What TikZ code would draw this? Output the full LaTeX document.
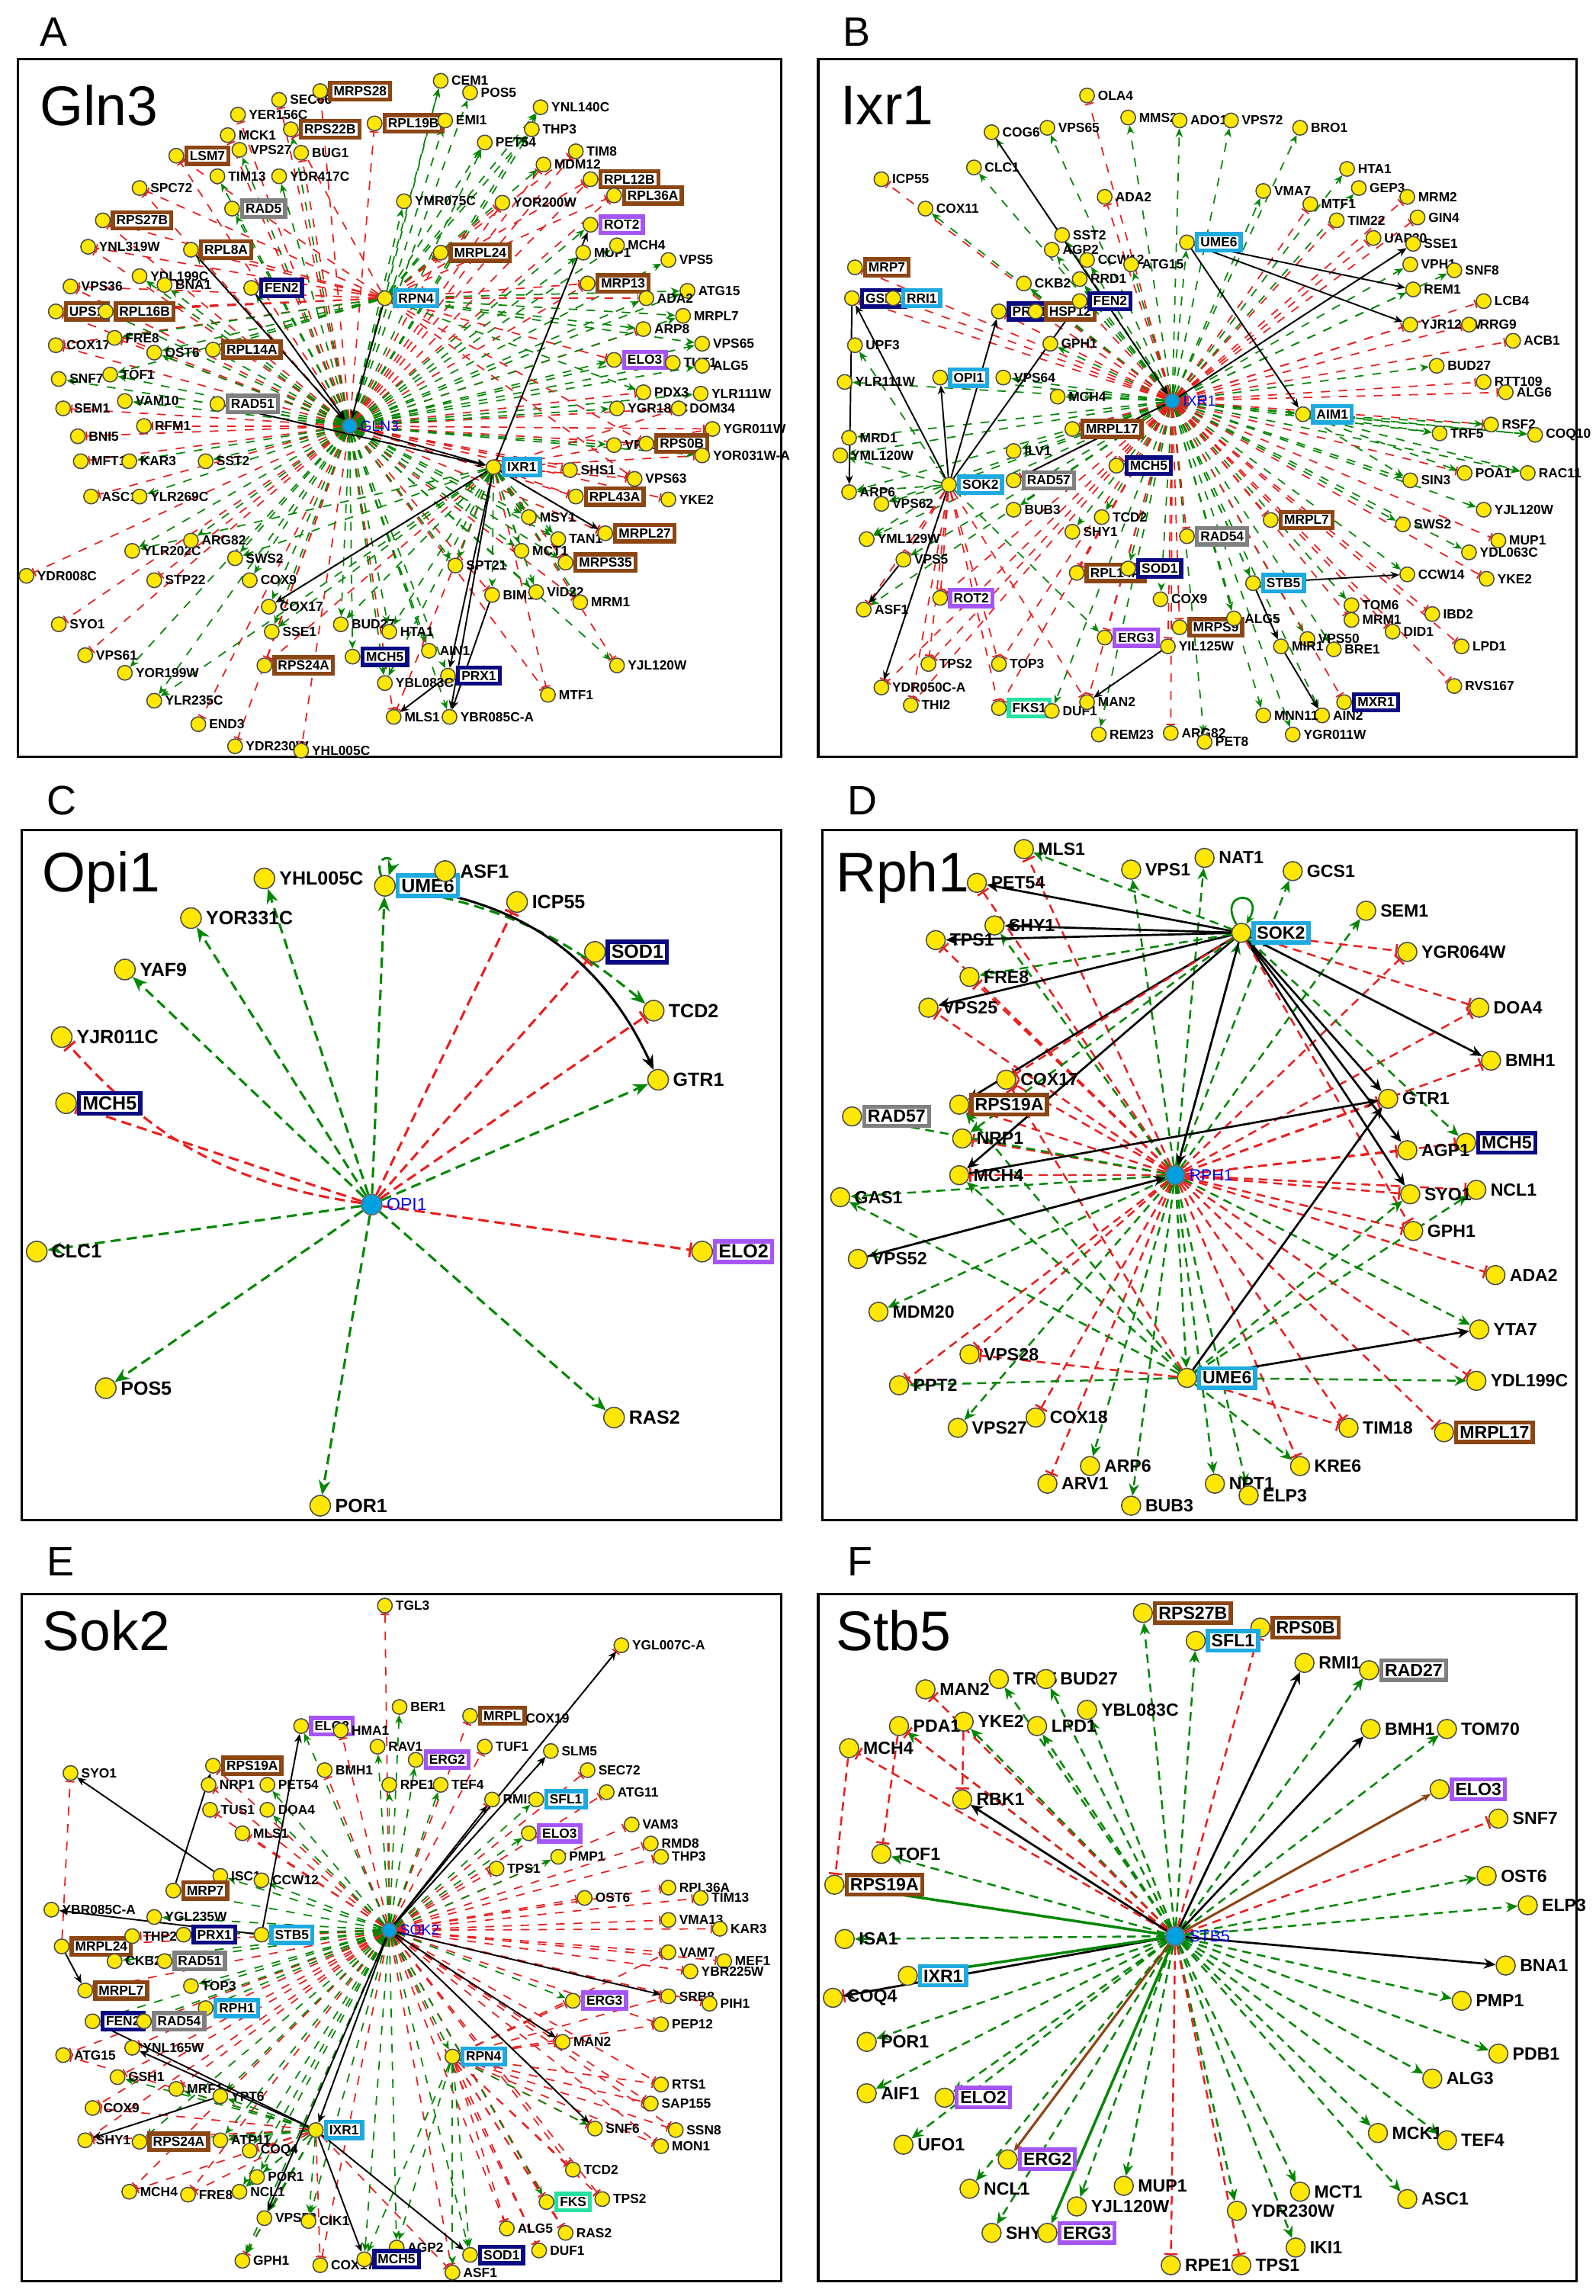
\documentclass[tikz,border=0pt]{standalone}
\usepackage{fontspec}
\setmainfont{Liberation Sans}
\usetikzlibrary{arrows.meta}
\pgfdeclarelayer{bg}\pgfsetlayers{bg,main}
\definecolor{brn}{RGB}{140,70,20}
\definecolor{cyn}{RGB}{30,170,225}
\definecolor{nvy}{RGB}{10,10,130}
\definecolor{prp}{RGB}{165,85,245}
\definecolor{gry}{RGB}{128,128,128}
\definecolor{tea}{RGB}{40,225,160}
\definecolor{gE}{RGB}{0,135,0}
\definecolor{rE}{RGB}{235,30,30}
\definecolor{hubc}{RGB}{0,160,225}
\newcommand\GN[3]{\node[dot] (#1) at (#2) {};\node[lab] at (#1.east) {#3};}
\newcommand\BX[4]{\node[dot] (#1) at (#2) {};\node[lab,draw=#4,fill=white,line width=1.4pt,inner sep=1.2pt] at (#1.east) {#3};}
\newcommand\HB[3]{\node[hub] (#1) at (#2) {};\node[lab,text=blue,font=\fontsize{5}{5}\selectfont] at (#1.east) {#3};}
\newcommand\ED[3]{\begin{pgfonlayer}{bg}\foreach \t in {#3} \draw[#1] (#2) -- (\t);\end{pgfonlayer}}
\begin{document}
\begin{tikzpicture}[x=0.5pt,y=-0.5pt,
 dot/.style={circle,fill=yellow!90!orange,draw=black!70,line width=0.4pt,minimum size=5pt,inner sep=0pt},
 hub/.style={circle,fill=hubc,draw=black!60,minimum size=5pt,inner sep=0pt},
 lab/.style={anchor=west,inner sep=0.8pt,font=\fontsize{4.5}{5}\bfseries},
 ge/.style={draw=gE,dashed,line width=0.45pt,-{Stealth[length=3pt,width=2.5pt]}},
 re/.style={draw=rE,dashed,line width=0.45pt,-{Bar[width=3pt]}},
 be/.style={draw=black,line width=0.5pt,-{Stealth[length=3pt,width=2.5pt]}},
 bre/.style={draw=brn,line width=0.6pt,-{Stealth[length=3pt,width=2.5pt]}},
 gs/.style={draw=gE,line width=0.7pt,-{Stealth[length=3pt,width=2.5pt]}},
 frame/.style={draw=black,line width=0.8pt},
 plet/.style={font=\fontsize{14}{14}\selectfont,anchor=west},
 ttl/.style={font=\fontsize{19}{19}\selectfont,anchor=west}]
\useasboundingbox (0,0) rectangle (1086,1563);
\begin{pgfonlayer}{bg}\fill[white] (0,0) rectangle (1086,1563);\end{pgfonlayer}
\draw[frame] (12,40) rectangle (532,515);
\draw[frame] (557,40) rectangle (1073,515);
\draw[frame] (15,565) rectangle (532,1035);
\draw[frame] (560,565) rectangle (1073,1035);
\draw[frame] (15,1085) rectangle (532,1553);
\draw[frame] (557,1085) rectangle (1073,1553);
\node[plet] at (20,22) {A};\node[plet] at (567,22) {B};
\node[plet] at (25,545) {C};\node[plet] at (570,545) {D};
\node[plet] at (25,1063) {E};\node[plet] at (570,1063) {F};
\node[ttl] at (20,72) {Gln3};\node[ttl] at (565,72) {Ixr1};
\node[ttl] at (22,597) {Opi1};\node[ttl] at (562,597) {Rph1};
\node[ttl] at (22,1110) {Sok2};\node[ttl] at (562,1110) {Stb5};

%%%%%%%%%%%%%%%% A : Gln3
\begin{scope}
\HB{aGLN}{238,290}{GLN3}
\GN{aSEC}{190,68}{SEC66}\BX{aRPS28}{218,62}{MRPS28}{brn}\GN{aCEM}{300,55}{CEM1}\GN{aPOS}{320,63}{POS5}
\GN{aYER}{162,78}{YER156C}\BX{aRPL19}{255,84}{RPL19B}{brn}\GN{aEMI}{303,82}{EMI1}\GN{aYNL140}{368,73}{YNL140C}
\GN{aMCK}{155,92}{MCK1}\BX{aRPS22}{198,88}{RPS22B}{brn}\GN{aTHP}{362,88}{THP3}\GN{aPET}{330,97}{PET54}
\GN{aVPS27}{163,102}{VPS27}\GN{aBUG}{205,104}{BUG1}\BX{aLSM}{120,106}{LSM7}{brn}\GN{aTIM8}{392,103}{TIM8}
\GN{aMDM}{370,112}{MDM12}\GN{aTIM13}{148,120}{TIM13}\GN{aYDR417}{190,120}{YDR417C}\GN{aSPC}{95,128}{SPC72}
\BX{aRPL12}{402,122}{RPL12B}{brn}\BX{aRPL36}{418,133}{RPL36A}{brn}\BX{aRAD5}{158,142}{RAD5}{gry}
\GN{aYMR}{275,137}{YMR075C}\GN{aYOR200}{342,138}{YOR200W}\BX{aRPS27}{70,150}{RPS27B}{brn}
\BX{aROT}{402,153}{ROT2}{prp}\GN{aYNL}{60,168}{YNL319W}\BX{aRPL8}{130,170}{RPL8A}{brn}
\BX{aMRPL24}{300,172}{MRPL24}{brn}\GN{aMUP}{397,172}{MUP1}\GN{aMCH4}{420,167}{MCH4}\GN{aVPS5}{455,177}{VPS5}
\GN{aVPS36}{48,195}{VPS36}\GN{aYDL}{95,188}{YDL199C}\GN{aBNA}{112,194}{BNA1}\BX{aFEN}{171,196}{FEN2}{nvy}
\BX{aMRP13}{400,193}{MRP13}{brn}\GN{aATG}{468,198}{ATG15}\BX{aRPN}{262,203}{RPN4}{cyn}
\BX{aUPS}{38,212}{UPS1}{brn}\BX{aRPL16}{72,212}{RPL16B}{brn}\GN{aADA}{440,203}{ADA2}\GN{aMRPL7}{465,215}{MRPL7}
\GN{aCOX}{38,235}{COX17}\GN{aFRE}{78,230}{FRE8}\GN{aOST}{105,240}{OST6}\BX{aRPL14}{145,238}{RPL14A}{brn}
\GN{aARP8}{438,224}{ARP8}\GN{aVPS65}{478,234}{VPS65}\BX{aELO}{418,245}{ELO3}{prp}\GN{aTUF}{458,247}{TUF1}\GN{aALG}{478,249}{ALG5}
\GN{aSNF}{40,258}{SNF7}\GN{aTOF}{75,255}{TOF1}\GN{aPDX}{438,267}{PDX3}\GN{aYLR111}{477,268}{YLR111W}
\GN{aSEM}{43,278}{SEM1}\GN{aVAM}{85,273}{VAM10}\BX{aRAD51}{148,275}{RAD51}{gry}\GN{aYGR182}{420,278}{YGR182C}\GN{aDOM}{462,278}{DOM34}
\GN{aYGR11}{485,292}{YGR011W}\GN{aBNI}{53,297}{BNI5}\GN{aRFM}{98,290}{RFM1}
\GN{aVRP}{418,303}{VRP1}\BX{aRPS0}{440,302}{RPS0B}{brn}\GN{aYOR31}{478,310}{YOR031W-A}
\GN{aMFT}{55,314}{MFT1}\GN{aKAR}{88,314}{KAR3}\GN{aSST}{140,314}{SST2}\BX{aIXR}{336,318}{IXR1}{cyn}\GN{aSHS}{388,320}{SHS1}\GN{aVPS63}{432,326}{VPS63}
\GN{aASC}{62,338}{ASC1}\GN{aYLR269}{95,338}{YLR269C}\BX{aRPL43}{392,338}{RPL43A}{brn}\GN{aYKE}{455,340}{YKE2}
\GN{aYLR202}{90,375}{YLR202C}\GN{aARG}{130,368}{ARG82}\GN{aMSY}{360,352}{MSY1}\GN{aTAN}{380,367}{TAN1}\BX{aMRPL27}{412,363}{MRPL27}{brn}
\GN{aSTP}{105,395}{STP22}\GN{aSWS}{160,380}{SWS2}\GN{aMCT}{355,375}{MCT1}\BX{aMRPS35}{385,383}{MRPS35}{brn}
\GN{aCOX9}{170,395}{COX9}\GN{aSPT}{310,385}{SPT21}\GN{aCOX17}{183,413}{COX17}\GN{aYDR8}{18,392}{YDR008C}
\GN{aBIM}{335,405}{BIM1}\GN{aVID}{365,403}{VID22}\GN{aSSE}{185,430}{SSE1}\GN{aBUD}{232,425}{BUD27}\GN{aHTA}{265,430}{HTA1}
\GN{aMRM}{395,410}{MRM1}\BX{aRPS24}{180,453}{RPS24A}{brn}\BX{aMCH5}{240,447}{MCH5}{nvy}\GN{aAIN}{292,443}{AIN1}
\BX{aPRX}{305,460}{PRX1}{nvy}\GN{aYBL}{262,465}{YBL083C}\GN{aSYO}{40,425}{SYO1}\GN{aVPS61}{58,446}{VPS61}
\GN{aYOR199}{85,458}{YOR199W}\GN{aYJL}{420,453}{YJL120W}\GN{aYLR235}{105,477}{YLR235C}\GN{aMTF}{373,473}{MTF1}
\GN{aEND}{135,493}{END3}\GN{aMLS}{268,488}{MLS1}\GN{aYBR}{306,488}{YBR085C-A}\GN{aYDR230}{160,508}{YDR230W}\GN{aYHL}{205,511}{YHL005C}
\ED{re}{aGLN}{aSEC,aRPS28,aRPL19,aMCK,aLSM,aSPC,aRPS27,aYNL,aVPS36,aUPS,aCOX,aSEM,aBNI,aMFT,aASC,aYDR8,aSYO,aVPS61,aEND,aYDR230,aYHL,aMLS,aRPS24,aRPL12,aRPL36,aMRPL24,aMRP13,aRPS0,aVPS63,aRPL43,aMRPL27,aYKE,aMRM,aMTF,aBIM,aTIM8,aMDM,aYOR200,aFRE,aRFM,aSTP,aPDX,aDOM,aYGR11,aSHS,aARP8,aYER,aBUG}
\ED{ge}{aGLN}{aCEM,aPOS,aYNL140,aTHP,aPET,aVPS27,aTIM13,aYDR417,aRAD5,aRPL8,aYDL,aBNA,aRPL16,aOST,aRPL14,aSNF,aTOF,aVAM,aRAD51,aKAR,aSST,aYLR269,aYLR202,aARG,aSWS,aCOX9,aCOX17,aSSE,aBUD,aHTA,aMCH5,aYBL,aAIN,aPRX,aYOR199,aYLR235,aYBR,aYJL,aMCT,aSPT,aMSY,aTAN,aMRPS35,aVID,aVRP,aYOR31,aYGR182,aYLR111,aELO,aTUF,aALG,aVPS65,aMRPL7,aADA,aATG,aVPS5,aMCH4,aMUP,aROT,aYMR,aFEN,aRPS22,aEMI}
\ED{re}{aRPN}{aRPL12,aRPL36,aMRP13,aYOR200,aTIM8,aRPS27,aYNL,aVPS36,aUPS,aRPL16,aCOX,aRPS22,aLSM,aSPC,aRPL8,aMRPL24,aELO,aADA,aVPS63,aRPS0}
\ED{ge}{aRPN}{aPET,aTHP,aYNL140,aCEM,aMDM,aRPL14,aOST,aTOF,aFRE,aATG,aMRPL7,aARP8,aVPS65,aPDX}
\ED{re}{aIXR}{aRPL43,aMRPL27,aMRPS35,aYJL,aMTF,aMLS,aRPS24,aVPS63,aYOR31,aDOM,aYGR11}
\ED{ge}{aIXR}{aMRM,aVID,aBIM,aMCT,aSPT,aMSY,aTAN,aYBL,aHTA,aBUD,aCOX17,aSSE,aSWS,aYLR202,aYLR235}
\ED{be}{aIXR}{aYBR,aPRX,aCOX17,aMRPL27}
\ED{be}{aGLN}{aIXR}
\begin{pgfonlayer}{bg}
\draw[be] (aFEN) -- (aGLN);\draw[be] (aRPL8) -- (aGLN);\draw[be] (aRPN) -- (aGLN);
\draw[be] (aIXR) -- (aROT);\draw[be] (aPRX) -- (aMLS);\draw[be] (aBIM) -- (aYBR);
\draw[be] (aRAD51) -- (aIXR);
\end{pgfonlayer}
\end{scope}

%%%%%%%%%%%%%%%% B : Ixr1
\begin{scope}
\HB{bIXR}{798,273}{IXR1}
\GN{bOLA}{740,65}{OLA4}\GN{bMMS}{768,80}{MMS22}\GN{bVPS65}{713,87}{VPS65}\GN{bADO}{803,82}{ADO1}\GN{bVPS72}{838,82}{VPS72}\GN{bBRO}{885,87}{BRO1}
\GN{bCOG}{675,90}{COG6}\GN{bCLC}{663,114}{CLC1}\GN{bICP}{600,122}{ICP55}\GN{bCOX}{630,142}{COX11}\GN{bADA}{752,134}{ADA2}
\GN{bVMA}{860,130}{VMA7}\GN{bHTA}{917,115}{HTA1}\GN{bMTF}{892,139}{MTF1}\GN{bGEP}{925,128}{GEP3}\GN{bMRM}{958,134}{MRM2}
\GN{bTIM}{910,150}{TIM22}\GN{bUAP}{935,162}{UAP30}\GN{bGIN}{965,148}{GIN4}\GN{bSSE}{962,166}{SSE1}
\BX{bUME}{808,165}{UME6}{cyn}\GN{bSST}{723,160}{SST2}\GN{bAGP}{716,170}{AGP2}\GN{bCCW}{740,177}{CCW12}\GN{bATG}{770,180}{ATG15}
\GN{bVPH}{960,180}{VPH1}\GN{bSNF}{990,184}{SNF8}\GN{bREM}{962,197}{REM1}\GN{bCKB}{697,193}{CKB2}\GN{bRNR}{735,190}{RRD1}
\BX{bMRP}{582,182}{MRP7}{brn}\BX{bGSH}{580,203}{GSH1}{nvy}\BX{bRRI}{608,203}{RRI1}{cyn}\BX{bPRX}{680,212}{PRX1}{nvy}
\BX{bHSP}{705,212}{HSP12}{brn}\BX{bFEN}{735,205}{FEN2}{nvy}\GN{bLCB}{1010,205}{LCB4}\GN{bYJR}{960,221}{YJR120W}\GN{bRRG}{1000,221}{RRG9}
\GN{bACB}{1030,232}{ACB1}\GN{bUPF}{582,235}{UPF3}\GN{bGPH}{715,234}{GPH1}\GN{bBUD}{978,249}{BUD27}\BX{bOPI}{640,257}{OPI1}{cyn}
\GN{bVPS64}{683,257}{VPS64}\GN{bYLR}{575,260}{YLR111W}\GN{bRTT}{1010,260}{RTT109}\GN{bALG6}{1025,267}{ALG6}\GN{bMCH4}{720,270}{MCH4}
\BX{bAIM}{887,282}{AIM1}{cyn}\BX{bMRPL17}{730,292}{MRPL17}{brn}\GN{bRSF}{1015,289}{RSF2}\GN{bTRF}{980,295}{TRF5}\GN{bCOQ}{1045,296}{COQ10}
\GN{bMRD}{578,298}{MRD1}\GN{bWML}{572,310}{YML120W}\GN{bILV}{690,307}{ILV1}\BX{bMCH5}{760,317}{MCH5}{nvy}
\GN{bPOA}{997,322}{POA1}\GN{bRAC}{1040,322}{RAC11}\BX{bSOK}{646,330}{SOK2}{cyn}\BX{bRAD57}{690,327}{RAD57}{gry}
\GN{bARP}{578,335}{ARP6}\GN{bVPS62}{600,343}{VPS62}\GN{bSIN}{960,327}{SIN3}\GN{bBUB}{690,347}{BUB3}\GN{bTCD}{750,352}{TCD2}
\BX{bMRPL7}{865,354}{MRPL7}{brn}\GN{bYJL}{1010,347}{YJL120W}\GN{bSHY}{730,362}{SHY1}\BX{bRAD54}{808,365}{RAD54}{gry}
\GN{bSWS}{955,357}{SWS2}\GN{bYWL}{590,367}{YML129W}\GN{bMUP}{1020,368}{MUP1}\GN{bYDL}{1000,376}{YDL063C}\GN{bVPS5}{615,381}{VPS5}
\BX{bRPL}{733,390}{RPL14A}{brn}\BX{bSOD}{768,387}{SOD1}{nvy}\BX{bSTB}{853,397}{STB5}{cyn}\GN{bCCW2}{958,391}{CCW14}\GN{bYKE}{1012,394}{YKE2}
\GN{bTOM}{920,412}{TOM6}\BX{bROT}{640,407}{ROT2}{prp}\GN{bASF}{588,415}{ASF1}\GN{bCOX9}{790,408}{COX9}\GN{bMRM1}{920,422}{MRM1}\GN{bIBD}{975,418}{IBD2}
\BX{bMRPS}{803,427}{MRPS9}{brn}\GN{bALG}{840,421}{ALG5}\GN{bVPS50}{890,435}{VPS50}\GN{bDID}{948,430}{DID1}\GN{bLPD}{995,440}{LPD1}
\BX{bERG}{752,434}{ERG3}{prp}\GN{bYIL}{795,440}{YIL125W}\GN{bMIR}{872,440}{MIR1}\GN{bBRE}{908,442}{BRE1}
\GN{bYDR}{600,468}{YDR050C-A}\GN{bTPS}{632,452}{TPS2}\GN{bTOP}{680,452}{TOP3}\GN{bTHI}{620,480}{THI2}\BX{bFKS}{680,482}{FKS1}{tea}
\GN{bDUF}{716,484}{DUF1}\GN{bMAN}{740,478}{MAN2}\GN{bRVS}{990,467}{RVS167}\GN{bAIN}{900,487}{AIN2}\BX{bMXR}{915,478}{MXR1}{nvy}\GN{bMNN}{860,487}{MNN11}
\GN{bREM23}{748,500}{REM23}\GN{bARG}{797,499}{ARG82}\GN{bPET}{820,505}{PET8}\GN{bYGR}{880,500}{YGR011W}
\ED{ge}{bIXR}{bVPS65,bMMS,bADO,bVPS72,bBRO,bCOG,bCLC,bCOX,bVMA,bHTA,bGEP,bSSE,bUME,bSST,bAGP,bCCW,bATG,bVPH,bSNF,bREM,bCKB,bRNR,bGPH,bBUD,bOPI,bVPS64,bYLR,bMCH4,bAIM,bTRF,bCOQ,bMRD,bWML,bILV,bRAC,bSOK,bARP,bVPS62,bSIN,bBUB,bTCD,bSHY,bSWS,bYWL,bYDL,bVPS5,bSOD,bSTB,bCCW2,bTOM,bASF,bCOX9,bALG,bVPS50,bMIR,bBRE,bDUF,bREM23,bPET,bYGR,bMNN,bAIN,bYJL}
\ED{re}{bIXR}{bOLA,bICP,bADA,bMTF,bMRM,bTIM,bUAP,bGIN,bMRP,bGSH,bRRI,bPRX,bHSP,bFEN,bLCB,bYJR,bRRG,bACB,bRTT,bALG6,bMRPL17,bRSF,bMCH5,bPOA,bRAD57,bMRPL7,bRAD54,bMUP,bRPL,bYKE,bROT,bMRM1,bIBD,bMRPS,bDID,bLPD,bERG,bYIL,bYDR,bTPS,bTOP,bTHI,bFKS,bMAN,bRVS,bMXR,bARG}
\ED{re}{bSOK}{bYDR,bTPS,bTOP,bTHI,bMAN,bROT,bVPS5,bASF,bFKS}
\ED{ge}{bSOK}{bARP,bYWL,bVPS62,bUPF,bWML,bERG}
\ED{ge}{bAIM}{bRSF,bCOQ,bPOA,bRAC,bTRF,bSIN}
\ED{be}{bUME}{bREM,bYJR}\ED{be}{bSOK}{bPRX,bOPI,bGSH,bFEN,bYDR}
\begin{pgfonlayer}{bg}
\draw[be] (bCOG) -- (bIXR);\draw[be] (bIXR) -- (bSSE);\draw[be] (bGSH) -- (bARP);\draw[be] (bVPS5) -- (bASF);
\draw[be] (bIXR) -- (bRAD57);\draw[be] (bSTB) -- (bMIR);\draw[be] (bMIR) -- (bAIN);\draw[be] (bSTB) -- (bCCW2);\draw[be] (bYIL) -- (bMAN);
\draw[be] (bUME) -- (bAIM);
\end{pgfonlayer}
\end{scope}

%%%%%%%%%%%%%%%% C : Opi1
\begin{scope}
\tikzset{dot/.append style={minimum size=7pt},lab/.append style={font=\fontsize{6.5}{7}\bfseries,inner sep=1.2pt},
 hub/.append style={minimum size=7pt},
 ge/.append style={line width=0.8pt,dash pattern=on 3.5pt off 2pt,-{Stealth[length=5pt,width=4pt]}},
 re/.append style={line width=0.8pt,dash pattern=on 3.5pt off 2pt,-{Bar[width=5pt]}},
 be/.append style={line width=0.8pt,-{Stealth[length=5pt,width=4pt]}}}
\node[hub] (cOPI) at (253,820) {};\node[lab,text=blue,font=\fontsize{6}{6}\selectfont] at (cOPI.east) {OPI1};
\GN{cYHL}{180,598}{YHL005C}\BX{cUME}{262,603}{UME6}{cyn}\GN{cASF}{303,593}{ASF1}\GN{cICP}{352,614}{ICP55}
\BX{cSOD}{405,648}{SOD1}{nvy}\GN{cTCD}{445,688}{TCD2}\GN{cGTR}{448,735}{GTR1}\GN{cYOR}{130,625}{YOR331C}
\GN{cYAF}{85,660}{YAF9}\GN{cYJR}{42,706}{YJR011C}\BX{cMCH}{45,751}{MCH5}{nvy}\GN{cCLC}{25,852}{CLC1}
\BX{cELO}{478,852}{ELO2}{prp}\GN{cPOS}{72,945}{POS5}\GN{cRAS}{418,965}{RAS2}\GN{cPOR}{218,1025}{POR1}
\ED{ge}{cOPI}{cYHL,cUME,cYOR,cYAF,cGTR,cPOS,cRAS,cPOR,cCLC}
\ED{re}{cOPI}{cICP,cSOD,cMCH,cELO,cTCD}
\begin{pgfonlayer}{bg}
\draw[re] (cOPI) to[bend left=20] (cYJR);
\draw[ge] (cUME) to[bend left=15] (cTCD);
\draw[be] (cUME) to[bend left=30] (cGTR);
\draw[ge] (cUME) to[out=110,in=70,looseness=8] (cUME);
\end{pgfonlayer}
\end{scope}

%%%%%%%%%%%%%%%% D : Rph1
\begin{scope}
\tikzset{dot/.append style={minimum size=6.5pt},lab/.append style={font=\fontsize{6}{6.5}\bfseries,inner sep=1.2pt},
 hub/.append style={minimum size=6.5pt},
 ge/.append style={line width=0.65pt,dash pattern=on 3pt off 2pt,-{Stealth[length=4pt,width=3.5pt]}},
 re/.append style={line width=0.65pt,dash pattern=on 3pt off 2pt,-{Bar[width=4.5pt]}},
 be/.append style={line width=0.7pt,-{Stealth[length=4pt,width=3.5pt]}}}
\node[hub] (dRPH) at (800,800) {};\node[lab,text=blue,font=\fontsize{5.5}{6}\selectfont] at (dRPH.east) {RPH1};
\BX{dSOK}{845,635}{SOK2}{cyn}\BX{dUME}{808,938}{UME6}{cyn}
\GN{dMLS}{697,578}{MLS1}\GN{dVPS1}{770,592}{VPS1}\GN{dNAT}{820,584}{NAT1}\GN{dGCS}{880,593}{GCS1}\GN{dSEM}{930,620}{SEM1}
\GN{dPET}{665,601}{PET54}\GN{dSHY}{677,630}{SHY1}\GN{dTPS}{637,640}{TPS1}\GN{dFRE}{660,665}{FRE8}\GN{dVPS25}{632,686}{VPS25}
\GN{dYGR}{958,648}{YGR064W}\GN{dDOA}{1007,686}{DOA4}\GN{dBMH}{1015,722}{BMH1}\GN{dCOX17}{685,735}{COX17}
\BX{dRPS}{653,752}{RPS19A}{brn}\BX{dRAD}{580,760}{RAD57}{gry}\GN{dNRP}{655,775}{NRP1}\GN{dGTR}{945,748}{GTR1}
\BX{dMCH5}{998,778}{MCH5}{nvy}\GN{dAGP}{958,783}{AGP1}\GN{dMCH4}{653,800}{MCH4}\GN{dNCL}{1005,810}{NCL1}\GN{dSYO}{960,813}{SYO1}
\GN{dGAS}{572,815}{GAS1}\GN{dGPH}{962,838}{GPH1}\GN{dADA}{1018,868}{ADA2}\GN{dVPS52}{584,857}{VPS52}\GN{dYTA}{1007,905}{YTA7}
\GN{dMDM}{598,893}{MDM20}\GN{dVPS28}{660,922}{VPS28}\GN{dYDL}{1005,940}{YDL199C}\GN{dPPT}{612,943}{PPT2}\GN{dVPS27}{652,972}{VPS27}
\GN{dCOX18}{705,965}{COX18}\GN{dTIM}{918,972}{TIM18}\BX{dMRPL}{983,975}{MRPL17}{brn}\GN{dARP}{742,998}{ARP6}\GN{dKRE}{885,998}{KRE6}
\GN{dARV}{713,1010}{ARV1}\GN{dNPT}{827,1010}{NPT1}\GN{dELP}{850,1018}{ELP3}\GN{dBUB}{770,1025}{BUB3}
\ED{re}{dRPH}{dPET,dTPS,dFRE,dVPS25,dCOX17,dRPS,dNRP,dMCH4,dGTR,dAGP,dMCH5,dSYO,dNCL,dGPH,dADA,dYDL,dTIM,dMRPL,dCOX18,dARV,dPPT,dDOA,dBMH,dYGR,dVPS28,dMLS,dKRE}
\ED{ge}{dRPH}{dSOK,dUME,dVPS1,dNAT,dGCS,dSHY,dRAD,dGAS,dVPS52,dMDM,dVPS27,dARP,dBUB,dNPT,dELP,dYTA,dSEM}
\ED{be}{dSOK}{dTPS,dSHY,dPET,dVPS25,dRPS,dMCH4,dGTR,dBMH,dAGP,dSYO,dRPH}
\ED{re}{dSOK}{dDOA,dYGR,dCOX17,dGPH}
\ED{ge}{dSOK}{dMLS,dFRE,dNRP,dMCH5}
\ED{be}{dUME}{dYTA,dGTR}
\ED{ge}{dUME}{dYDL,dPPT,dRPS,dGAS,dMCH4,dSYO,dNCL,dKRE}
\ED{re}{dUME}{dVPS28,dCOX17,dTIM}
\begin{pgfonlayer}{bg}
\draw[be] (dVPS52) -- (dRPH);\draw[be] (dMCH4) -- (dGTR);
\draw[gs] (dSOK) to[out=120,in=60,looseness=10] (dSOK);
\end{pgfonlayer}
\end{scope}

%%%%%%%%%%%%%%%% E : Sok2
\begin{scope}
\HB{eSOK}{265,1314}{SOK2}
\GN{eTGL}{262,1093}{TGL3}\GN{eYGL7}{423,1120}{YGL007C-A}\GN{eBER}{272,1162}{BER1}\BX{eMRPL}{320,1168}{MRPL}{brn}\node[lab] at (356,1170) {COX19};
\BX{eELO2}{205,1175}{ELO2}{prp}\GN{eHMA}{232,1178}{HMA1}\GN{eRAV}{257,1189}{RAV1}\GN{eTUF}{330,1189}{TUF1}\GN{eSLM}{375,1192}{SLM5}
\BX{eRPS}{145,1202}{RPS19A}{brn}\BX{eERG2}{283,1198}{ERG2}{prp}\GN{eBMH}{221,1205}{BMH1}\GN{eSEC}{400,1205}{SEC72}\GN{eSYO}{48,1207}{SYO1}
\GN{eNRP}{142,1215}{NRP1}\GN{eYPET}{182,1215}{PET54}\GN{eRPE}{265,1215}{RPE1}\GN{eTEF}{300,1215}{TEF4}
\GN{eTUS}{143,1232}{TUS1}\GN{eDOA}{182,1232}{DOA4}\GN{eRMI}{335,1225}{RMI1}\BX{eSFL}{365,1225}{SFL1}{cyn}\GN{eATG}{413,1220}{ATG11}
\GN{eMLS}{165,1248}{MLS1}\BX{eELO3}{360,1248}{ELO3}{prp}\GN{eVAM3}{430,1242}{VAM3}\GN{eRMD}{443,1255}{RMD8}
\GN{ePMP}{380,1264}{PMP1}\GN{eTHP}{450,1264}{THP3}\GN{eISC}{150,1277}{ISC1}\GN{eCCW}{178,1280}{CCW12}\GN{eTPS}{338,1272}{TPS1}
\GN{eRPL}{455,1285}{RPL36A}\BX{eMRP7}{118,1287}{MRP7}{brn}\GN{eOST}{398,1292}{OST6}\GN{eTIM}{477,1292}{TIM13}
\GN{eYBR}{35,1300}{YBR085C-A}\GN{eYGL}{105,1305}{YGL235W}\BX{ePRX}{125,1317}{PRX1}{nvy}\BX{eSTB}{178,1317}{STB5}{cyn}
\GN{eVMA}{455,1307}{VMA13}\GN{eKAR}{490,1313}{KAR3}\BX{eMRPL24}{42,1325}{MRPL24}{brn}\GN{eTHP2}{90,1318}{THP2}
\GN{eCKB}{78,1335}{CKB2}\BX{eRAD51}{112,1335}{RAD51}{gry}\GN{eVAM7}{455,1329}{VAM7}\GN{eMEF}{493,1335}{MEF1}\GN{eYBR2}{470,1342}{YBR225W}
\BX{eMRPL7}{58,1355}{MRPL7}{brn}\GN{eTOP}{130,1352}{TOP3}\BX{eRPH}{140,1367}{RPH1}{cyn}\BX{eERG3}{390,1362}{ERG3}{prp}
\GN{eSRB}{455,1359}{SRB8}\GN{ePIH}{483,1364}{PIH1}\BX{eFEN}{63,1376}{FEN2}{nvy}\BX{eRAD54}{98,1376}{RAD54}{gry}\GN{ePEP}{450,1378}{PEP12}
\GN{eYNL}{90,1394}{YNL165W}\GN{eMAN}{383,1390}{MAN2}\GN{eATG15}{43,1399}{ATG15}\BX{eRPN}{308,1400}{RPN4}{cyn}
\GN{eGSH}{80,1414}{GSH1}\GN{eMRF}{120,1422}{MRF1}\GN{eYPT}{150,1427}{YPT6}\GN{eRTS}{450,1419}{RTS1}\GN{eSAP}{443,1432}{SAP155}
\GN{eCOX9}{63,1435}{COX9}\BX{eIXR}{215,1450}{IXR1}{cyn}\GN{eSHY}{58,1457}{SHY1}\BX{eRPS24}{95,1458}{RPS24A}{brn}\GN{eATP}{150,1457}{ATP11}
\GN{eSNF}{405,1449}{SNF6}\GN{eSSN}{460,1450}{SSN8}\GN{eMON}{450,1461}{MON1}\GN{eCOQ}{170,1464}{COQ4}\GN{eTCD}{390,1477}{TCD2}
\GN{ePOR}{175,1482}{POR1}\GN{eMCH4}{88,1492}{MCH4}\GN{eFRE}{128,1494}{FRE8}\GN{eNCL}{163,1492}{NCL1}\BX{eFKS}{372,1499}{FKS}{tea}\GN{eTPS2}{410,1497}{TPS2}
\GN{eVPS}{180,1510}{VPS52}\GN{eCIK}{210,1512}{CIK1}\GN{eALG}{345,1517}{ALG5}\GN{eRAS}{385,1520}{RAS2}
\GN{eGPH}{165,1539}{GPH1}\GN{eCOX17}{218,1542}{COX17}\GN{eAGP}{270,1530}{AGP2}\BX{eMCH5}{248,1538}{MCH5}{nvy}\BX{eSOD}{320,1535}{SOD1}{nvy}
\GN{eDUF}{367,1532}{DUF1}\GN{eASF}{308,1547}{ASF1}
\ED{re}{eSOK}{eTGL,eYGL7,eMRPL,eHMA,eTUF,eRPS,eBMH,eSEC,eNRP,eTUS,eRMI,eATG,eMLS,eVAM3,eRMD,eTHP,eTPS,eRPL,eOST,eTIM,eVMA,eKAR,eMRPL24,eTHP2,eVAM7,eMEF,eYBR2,eMRPL7,eSRB,ePIH,ePEP,eMAN,eATG15,eGSH,eRTS,eSAP,eCOX9,eSHY,eSNF,eSSN,eMON,eTCD,eMCH4,eFRE,eTPS2,eALG,eRAS,eCOX17,eASF,eDUF,eYNL,eMRF}
\ED{ge}{eSOK}{eBER,eELO2,eRAV,eSLM,eERG2,eYPET,eRPE,eTEF,eDOA,eSFL,eELO3,ePMP,eISC,eCCW,eMRP7,eYGL,ePRX,eSTB,eCKB,eRAD51,eTOP,eRPH,eERG3,eFEN,eRAD54,eRPN,eYPT,eIXR,eRPS24,eATP,eCOQ,ePOR,eNCL,eFKS,eVPS,eCIK,eGPH,eAGP,eMCH5,eSOD}
\ED{re}{eRPN}{eRTS,eSAP,eSNF,eSSN,eMON,eTCD,eTPS2,eFKS,eALG,eRAS,eDUF,eMAN,ePEP,eSRB,eERG3,eVAM7}
\ED{ge}{eRPN}{eASF,eSOD,eMCH5,eAGP,eSNF}
\ED{re}{eIXR}{eCOX9,eSHY,eMCH4,eFRE,eGPH,eCOX17,eASF,eCOQ,eATG15}
\ED{ge}{eIXR}{eGSH,eMRF,eYPT,eRPS24,eATP,eVPS,eCIK,eNCL,ePOR,eGPH}
\ED{be}{eSOK}{eYGL7,eRMI,eSLM,eMAN,eSNF,eSRB,eIXR,eVPS}
\ED{be}{eIXR}{eFEN,eYNL,eSOD,eMCH5}
\begin{pgfonlayer}{bg}
\draw[be] (eISC) -- (eSYO);\draw[re] (eMRPL24) -- (eSYO);\draw[be] (eSTB) -- (eYBR);\draw[be] (eMRP7) -- (eRPS);
\draw[be] (eSTB) -- (eELO2);\draw[be] (eYPT) -- (eSHY);\draw[be] (eMRPL24) -- (eMRPL7);
\end{pgfonlayer}
\end{scope}

%%%%%%%%%%%%%%%% F : Stb5
\begin{scope}
\tikzset{dot/.append style={minimum size=6.5pt},lab/.append style={font=\fontsize{6}{6.5}\bfseries,inner sep=1.2pt},
 hub/.append style={minimum size=6.5pt},
 ge/.append style={line width=0.65pt,dash pattern=on 3pt off 2pt,-{Stealth[length=4pt,width=3.5pt]}},
 re/.append style={line width=0.65pt,dash pattern=on 3pt off 2pt,-{Bar[width=4.5pt]}},
 be/.append style={line width=0.7pt,-{Stealth[length=4pt,width=3.5pt]}},
 bre/.append style={line width=0.8pt},gs/.append style={line width=0.9pt}}
\node[hub] (fSTB) at (800,1318) {};\node[lab,text=blue,font=\fontsize{5.5}{6}\selectfont] at (fSTB.east) {STB5};
\BX{fRPS27}{778,1098}{RPS27B}{brn}\BX{fRPS0}{858,1108}{RPS0B}{brn}\BX{fSFL}{814,1117}{SFL1}{cyn}\GN{fRMI}{888,1132}{RMI1}
\BX{fRAD}{932,1137}{RAD27}{gry}\GN{fMAN}{630,1150}{MAN2}\GN{fTRF}{680,1143}{TRF5}\GN{fBUD}{712,1143}{BUD27}
\GN{fYKE}{656,1172}{YKE2}\GN{fLPD}{706,1175}{LPD1}\GN{fYBL}{740,1164}{YBL083C}\GN{fPDA}{612,1175}{PDA1}\GN{fMCH4}{578,1190}{MCH4}
\GN{fBMH}{933,1177}{BMH1}\GN{fTOM}{985,1177}{TOM70}\GN{fRBK}{655,1225}{RBK1}\BX{fELO3}{980,1218}{ELO3}{prp}\GN{fSNF}{1020,1238}{SNF7}
\GN{fTOF}{600,1262}{TOF1}\BX{fRPS19}{568,1283}{RPS19A}{brn}\GN{fOST}{1012,1277}{OST6}\GN{fELP}{1040,1297}{ELP3}
\GN{fISA}{575,1320}{ISA1}\BX{fIXR}{618,1345}{IXR1}{cyn}\GN{fBNA}{1025,1338}{BNA1}\GN{fCOQ}{567,1360}{COQ4}\GN{fPMP}{995,1362}{PMP1}
\GN{fPOR}{590,1390}{POR1}\GN{fPDB}{1020,1398}{PDB1}\GN{fALG}{975,1415}{ALG3}\GN{fAIF}{590,1425}{AIF1}\BX{fELO2}{643,1428}{ELO2}{prp}
\GN{fMCK}{938,1452}{MCK1}\GN{fTEF}{985,1457}{TEF4}\GN{fUFO}{615,1460}{UFO1}\BX{fERG2}{686,1470}{ERG2}{prp}
\GN{fMUP}{765,1488}{MUP1}\GN{fMCT}{885,1492}{MCT1}\GN{fASC}{958,1497}{ASC1}\GN{fNCL}{660,1490}{NCL1}\GN{fYJL}{733,1502}{YJL120W}
\GN{fYDR}{842,1505}{YDR230W}\GN{fSHY}{675,1520}{SHY1}\BX{fERG3}{713,1520}{ERG3}{prp}\GN{fIKI}{882,1530}{IKI1}\GN{fRPE}{797,1542}{RPE1}\GN{fTPS}{845,1542}{TPS1}
\ED{ge}{fSTB}{fSFL,fRMI,fTOM,fOST,fELP,fPMP,fPDB,fALG,fMCK,fTEF,fMCT,fASC,fYDR,fIKI,fMUP,fYJL,fSHY,fNCL,fUFO,fELO2,fAIF,fPOR,fISA,fRBK,fPDA,fTRF,fBUD,fYKE,fLPD,fYBL,fRAD,fRPS27,fTOF}
\ED{re}{fSTB}{fSNF,fRPE,fTPS,fCOQ,fRPS0,fMAN,fMCH4,fPDA}
\ED{be}{fSTB}{fRMI,fBMH,fBNA,fRBK,fCOQ}
\ED{bre}{fSTB}{fELO3,fERG2}
\begin{pgfonlayer}{bg}
\draw[gs] (fRPS19) -- (fSTB);\draw[gs] (fSTB) -- (fIXR);\draw[gs] (fSTB) -- (fERG3);
\draw[re] (fPDA) -- (fTOF);\draw[re] (fMCH4) -- (fRPS19);\draw[re] (fYKE) -- (fRBK);
\end{pgfonlayer}
\end{scope}
\end{tikzpicture}
\end{document}
